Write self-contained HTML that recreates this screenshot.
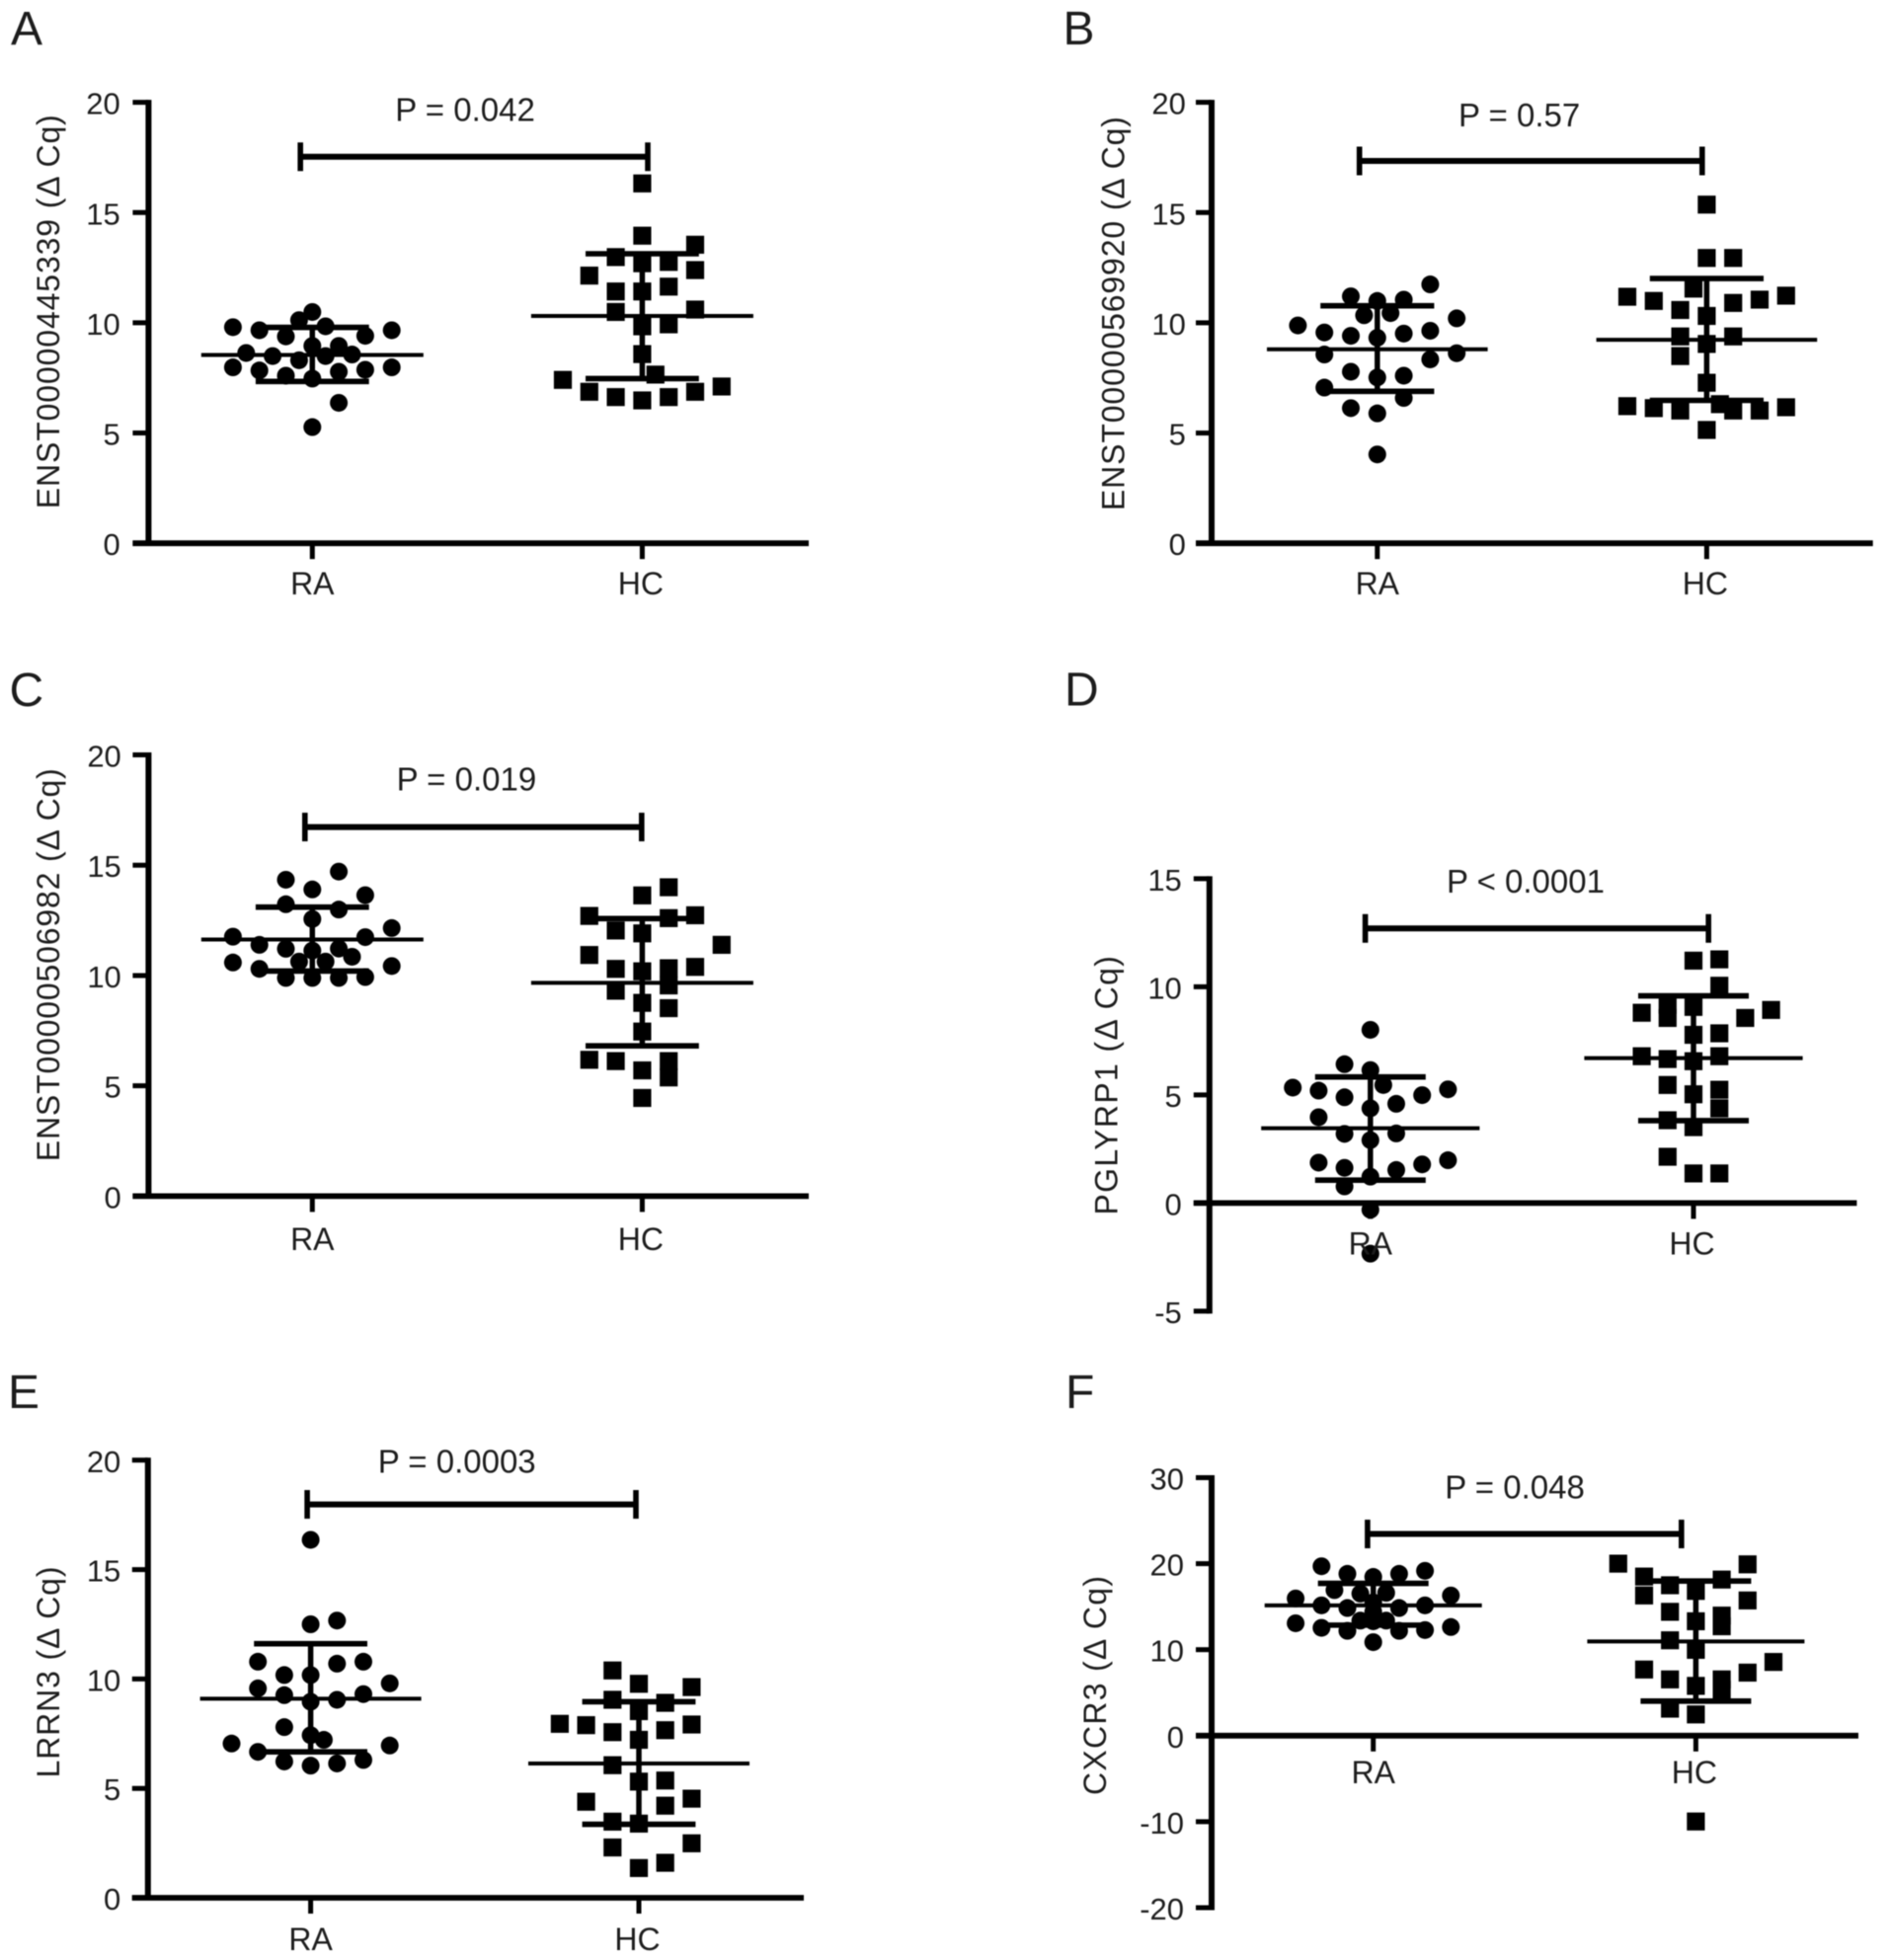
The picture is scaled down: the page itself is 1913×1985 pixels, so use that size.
<!DOCTYPE html>
<html lang="en">
<head>
<meta charset="utf-8">
<title>Delta Cq scatter plots, RA vs HC</title>
<style>
html,body{margin:0;padding:0;background:#fff;width:1913px;height:1985px;overflow:hidden}
svg{display:block;filter:blur(0.5px)}
text{font-family:"Liberation Sans",Arial,sans-serif;fill:#1c1c1c}
</style>
</head>
<body>
<svg id="figure" xmlns="http://www.w3.org/2000/svg" width="1913" height="1985" viewBox="0 0 1913 1985"></svg>
<script>
const categories = ['RA', 'HC'];

const ticksA = [0, 5, 10, 15, 20];
const ticksB = [0, 5, 10, 15, 20];
const ticksC = [0, 5, 10, 15, 20];
const ticksD = [-5, 0, 5, 10, 15];
const ticksE = [0, 5, 10, 15, 20];
const ticksF = [-20, -10, 0, 10, 20, 30];

const raValuesA = [9.8,9.66,9.38,10.12,10.49,9.84,9.41,9.66,8.95,8.95,8.63,8.49,8.3,8.49,8.56,7.98,7.84,7.6,7.47,7.78,7.87,7.98,6.37,5.27];
const raSlotsA = [-3,-2,-1,-0.5,0,0.5,2,3,0,1,-2.5,-1.5,-0.5,0.5,1.5,-3,-2,-1,0,1,2,3,1,0];
const hcValuesA = [16.32,13.95,13.54,12.98,12.76,12.7,12.39,12.14,11.64,11.42,11.42,10.6,10.49,9.84,9.93,8.58,7.65,7.41,7.11,6.87,6.87,6.63,6.63,6.48];
const hcSlotsA = [0,0,2,-1,1,0,2,-2,1,-1,0,2,-1,0,1,0,0.5,-3,3,-2,2,-1,1,0];
const statsA = [[8.54,9.79,7.34],[10.31,13.13,7.47]];

const raValuesB = [11.74,11.2,10.99,11.05,10.34,10.44,10.2,9.88,9.56,9.41,9.32,9.51,9.64,8.56,8.62,8.34,7.78,7.52,7.6,7.06,6.59,6.13,5.89,4.03];
const raSlotsB = [2,-1,0,1,-0.5,0.5,3,-3,-2,-1,0,1,2,-2,3,2,-1,0,1,-2,1,-1,0,0];
const hcValuesB = [15.36,12.94,12.94,11.55,11.18,10.99,11.05,11.23,10.9,10.58,10.31,9.38,9.38,9.04,8.49,7.28,6.22,6.13,6.02,6.31,6.02,6.02,6.17,5.14];
const hcSlotsB = [0,0,1,-0.5,-3,-2,2,3,1,-1,0,-1,1,0,-1,0,-3,-2,-1,0.5,1,2,3,0];
const statsB = [[8.8,10.77,6.89],[9.23,12.01,6.48]];

const raValuesC = [14.71,14.34,13.9,13.64,13.23,12.99,12.56,12.15,11.76,11.74,11.39,11.21,11.13,11.22,10.63,10.85,10.63,10.59,10.43,10.3,9.89,9.89,9.89,9.93];
const raSlotsC = [1,-1,0,2,-1,1,0,3,-3,2,-2,-1,0,1,-0.5,1.5,0.5,-3,3,-2,-1,0,1,2];
const hcValuesC = [14,13.63,12.7,12.73,12.6,12.04,11.91,11.39,10.93,10.39,10.33,10.3,10.19,9.55,9.31,8.76,8.52,7.46,6.18,6.12,6.12,5.7,5.38,4.45];
const hcSlotsC = [1,0,-2,2,1,-1,0,3,-2,2,1,-1,0,1,-1,0,1,0,-2,-1,1,0,1,0];
const statsC = [[11.63,13.1,10.2],[9.67,12.58,6.81]];

const raValuesD = [8.01,6.42,6.15,5.46,5.34,5.2,5.26,4.99,4.89,4.59,4.38,3.97,3.2,3.22,2.91,1.87,1.98,1.79,1.63,1.53,1.22,0.77,-0.31,-2.34];
const raSlotsD = [0,-1,0,0.5,-3,-2,3,2,-1,1,0,-2,-1,1,0,-2,3,2,-1,1,0,-1,0,0];
const hcValuesD = [11.21,11.27,10.05,8.93,8.8,9.17,8.56,9.07,8.56,7.78,7.85,6.79,6.66,6.56,6.79,5.46,5.03,5.24,4.38,3.83,3.51,2.14,1.37,1.37];
const hcSlotsD = [0,1,1,3,-2,-1,-1,0,2,0,1,-2,-1,0,1,-1,0,1,1,-1,0,-1,0,1];
const statsD = [[3.46,5.83,1.06],[6.7,9.58,3.81]];

const raValuesE = [16.36,12.67,12.5,10.79,10.7,10.79,10.18,10.18,9.8,9.57,9.26,9.31,9.05,8.96,7.8,7.43,7.22,7.05,6.96,6.67,6.3,6.23,6.14,6.04];
const raSlotsE = [0,1,0,-2,1,2,-1,0,3,-2,-1,2,1,0,-1,0,0.5,-3,3,-2,2,-1,1,0];
const hcValuesE = [10.39,9.78,9.63,9.05,8.91,8.53,7.95,7.89,7.92,7.66,7.57,7.22,6.06,5.31,5.36,4.39,4.53,4.21,3.48,3.39,2.49,2.3,1.6,1.36];
const hcSlotsE = [-1,0,2,-1,1,0,-3,-2,2,1,-1,0,-1,0,1,-2,2,1,-1,0,2,-1,1,0];
const statsE = [[9.1,11.61,6.67],[6.14,8.96,3.36]];

const raValuesF = [19.7,19.17,18.82,18.46,18.82,16.92,16.52,16.61,16.3,15.95,15.15,14.84,15.15,14.84,15.5,14.4,13.38,13.38,13.07,12.54,12.63,12.19,12.19,12.28,13.3,10.87];
const raSlotsF = [-2,2,-1,0,1,-1.5,-0.5,0.5,3,-3,-2,-1,2,1,0,0,-0.5,0.5,-3,-2,3,-1,1,2,0,0];
const hcValuesF = [20,19.92,18.5,18.15,17.49,16.83,16.3,15.72,14.4,13.96,13.3,12.72,11.09,9.98,8.57,7.69,7.33,6.54,6.54,5.79,5.34,3.14,2.47,-9.98];
const hcSlotsF = [-3,2,-2,1,-1,0,-2,2,-1,1,0,1,-1,0,3,-2,2,-1,1,0,1,-1,0,0];
const statsF = [[15.15,17.71,12.85],[10.95,17.98,4.02]];

const bracketValues = [17.53,17.34,16.73,12.7,17.98,23.45];
const pLabels = ['P = 0.042','P = 0.57','P = 0.019','P < 0.0001','P = 0.0003','P = 0.048'];
const yTitles = ['ENST00000445339 (\u0394 Cq)','ENST00000569920 (\u0394 Cq)','ENST00000506982 (\u0394 Cq)','PGLYRP1 (\u0394 Cq)','LRRN3 (\u0394 Cq)','CXCR3 (\u0394 Cq)'];
const panelLetters = ['A','B','C','D','E','F'];

const svg = document.getElementById('figure');
const NS = 'http://www.w3.org/2000/svg';

function make(parent, tag, attrs, txt) {
  const el = document.createElementNS(NS, tag);
  for (const k in attrs) el.setAttribute(k, attrs[k]);
  if (txt !== undefined) el.textContent = txt;
  parent.appendChild(el);
  return el;
}

function line(parent, x1, y1, x2, y2, w) {
  return make(parent, 'line', {x1: x1, y1: y1, x2: x2, y2: y2, stroke: '#000', 'stroke-width': w});
}

function drawPanel(index, ticks, series, stats, L) {
  const letter = panelLetters[index].toLowerCase();
  const g = make(svg, 'g', {});
  
  

  const minV = ticks[0];
  const maxV = ticks[ticks.length - 1];
  const yScale = v => L.yBottom - (v - minV) * (L.yBottom - L.yTop) / (maxV - minV);
  const xCat = i => L.catX[i];
  const xSlot = (i, s) => xCat(i) + s * L.slotW;
  const axisZero = yScale(0);

  const pl = make(g, 'text', {x: L.letterX, y: L.letterY, 'font-size': 48}, panelLetters[index]);
  
  

  series.forEach((s, c) => {
    s.values.forEach((v, k) => {
      let mark;
      if (c === 0) {
        mark = make(g, 'circle', {cx: xSlot(c, s.slots[k]), cy: yScale(v), r: 9, fill: '#000'});
      } else {
        mark = make(g, 'rect', {x: xSlot(c, s.slots[k]) - 9.1, y: yScale(v) - 9.1, width: 18.2, height: 18.2, fill: '#000'});
      }
      
      
    });
  });

  stats.forEach((st, c) => {
    const cx = xCat(c);
    const meanLine = line(g, cx - L.meanHalf, yScale(st[0]), cx + L.meanHalf, yScale(st[0]), 4);
    
    
    const stem = line(g, cx, yScale(st[1]), cx, yScale(st[2]), 5.5);
    
    
    const capHi = line(g, cx - L.capHalf, yScale(st[1]), cx + L.capHalf, yScale(st[1]), 5.6);
    
    
    const capLo = line(g, cx - L.capHalf, yScale(st[2]), cx + L.capHalf, yScale(st[2]), 5.6);
    
    
  });

  const yAxis = line(g, L.axisX, L.yTop - 2.5, L.axisX, L.yBottom + 2.5, 6);
  
  
  const xAxis = line(g, L.axisX - 16, axisZero, L.xEnd, axisZero, 5.8);
  
  

  ticks.forEach(t => {
    const tk = line(g, L.axisX - 16, yScale(t), L.axisX, yScale(t), 5);
    
    
    const lb = make(g, 'text', {x: L.tickRight, y: yScale(t) + 12, 'font-size': 31, 'text-anchor': 'end'}, String(t));
    
    
  });

  categories.forEach((name, i) => {
    const tk = line(g, xCat(i), axisZero, xCat(i), axisZero + 16, 5);
    
    
    const lb = make(g, 'text', {x: xCat(i) - i * 1.5, y: L.xLabelY, 'font-size': 32, 'text-anchor': 'middle'}, name);
    
    
  });

  const by = yScale(bracketValues[index]);
  const bar = line(g, L.brX1, by, L.brX2, by, 6);
  
  
  const bl = line(g, L.brX1, by - 14.5, L.brX1, by + 14.5, 5.6);
  
  
  const br = line(g, L.brX2, by - 14.5, L.brX2, by + 14.5, 5.6);
  
  

  const p = make(g, 'text', {x: L.pX, y: L.pY + 12, 'font-size': 33, 'text-anchor': 'middle'}, pLabels[index]);
  
  

  const yt = make(g, 'text', {
    x: 0, y: 0, 'font-size': 32, 'text-anchor': 'middle',
    textLength: L.titleLen, lengthAdjust: 'spacing',
    transform: 'translate(' + (L.titleX + 11.5) + ' ' + L.titleY + ') rotate(-90)'
  }, yTitles[index]);
  
  
}

drawPanel(0, ticksA, [{values: raValuesA, slots: raSlotsA}, {values: hcValuesA, slots: hcSlotsA}], statsA,
  {slotW: 26.8, meanHalf: 112.5, capHalf: 57.4, axisX: 150.4, yTop: 103.6, yBottom: 550.2, xEnd: 819, catX: [316.3, 650.4], brX1: 304.2, brX2: 656, pX: 471, pY: 110.3, titleX: 48.3, titleY: 315.7, titleLen: 399, tickRight: 121.7, xLabelY: 602, letterX: 11, letterY: 45});
drawPanel(1, ticksB, [{values: raValuesB, slots: raSlotsB}, {values: hcValuesB, slots: hcSlotsB}], statsB,
  {slotW: 26.8, meanHalf: 111.8, capHalf: 57.6, axisX: 1227, yTop: 103.6, yBottom: 550.2, xEnd: 1896.7, catX: [1394.8, 1728.4], brX1: 1376.7, brX2: 1723.8, pX: 1538.6, pY: 116, titleX: 1127, titleY: 317.6, titleLen: 399, tickRight: 1200.9, xLabelY: 602, letterX: 1076.5, letterY: 45});
drawPanel(2, ticksC, [{values: raValuesC, slots: raSlotsC}, {values: hcValuesC, slots: hcSlotsC}], statsC,
  {slotW: 26.8, meanHalf: 112.5, capHalf: 57.4, axisX: 150.4, yTop: 764.5, yBottom: 1211.4, xEnd: 819, catX: [316.3, 650.4], brX1: 308.8, brX2: 649.8, pX: 472.4, pY: 788.5, titleX: 48.3, titleY: 977.2, titleLen: 398, tickRight: 122.8, xLabelY: 1266, letterX: 9.5, letterY: 715});
drawPanel(3, ticksD, [{values: raValuesD, slots: raSlotsD}, {values: hcValuesD, slots: hcSlotsD}], statsD,
  {slotW: 26.2, meanHalf: 110.6, capHalf: 56, axisX: 1224.8, yTop: 889.9, yBottom: 1327.9, xEnd: 1880.4, catX: [1387.8, 1715], brX1: 1382.6, brX2: 1730.2, pX: 1545, pY: 892, titleX: 1120, titleY: 1099.3, titleLen: 262.5, tickRight: 1196.8, xLabelY: 1270.7, letterX: 1078, letterY: 714.5});
drawPanel(4, ticksE, [{values: raValuesE, slots: raSlotsE}, {values: hcValuesE, slots: hcSlotsE}], statsE,
  {slotW: 26.7, meanHalf: 112, capHalf: 57.4, axisX: 149.8, yTop: 1478.8, yBottom: 1922, xEnd: 814, catX: [314.6, 647], brX1: 311.1, brX2: 644, pX: 462.7, pY: 1479.5, titleX: 48.3, titleY: 1693.5, titleLen: 214, tickRight: 122.3, xLabelY: 1975, letterX: 8, letterY: 1426});
drawPanel(5, ticksF, [{values: raValuesF, slots: raSlotsF}, {values: hcValuesF, slots: hcSlotsF}], statsF,
  {slotW: 26.2, meanHalf: 110, capHalf: 56, axisX: 1227, yTop: 1496.5, yBottom: 1932, xEnd: 1882, catX: [1390.7, 1717.4], brX1: 1384.9, brX2: 1702.8, pX: 1534, pY: 1505.4, titleX: 1108.5, titleY: 1707, titleLen: 222, tickRight: 1199, xLabelY: 1806, letterX: 1079, letterY: 1426});
</script>
</body>
</html>
